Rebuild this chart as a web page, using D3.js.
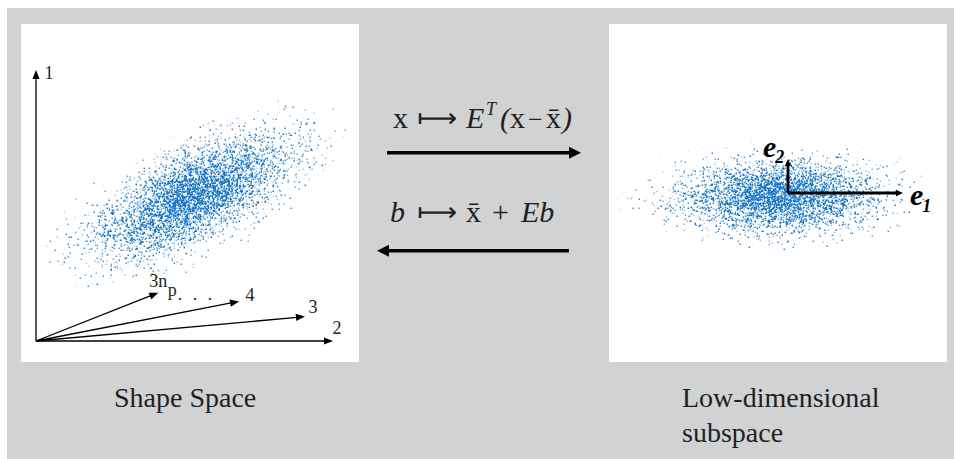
<!DOCTYPE html>
<html>
<head>
<meta charset="utf-8">
<script src="https://cdn.jsdelivr.net/npm/d3@7"></script>
<style>
  html, body { margin: 0; padding: 0; background: #fff; }
  svg { display: block; }
</style>
</head>
<body>
<svg id="fig" width="954" height="459"></svg>
<script>
// ---- Shape space: basis directions drawn from the origin (left panel units) ----
const axisNames = ["1", "2", "3", "4", "3n"];
const axisTipX  = [0, 1.1, 0.996, 0.752, 0.453];
const axisTipY  = [1.0, 0, 0.090, 0.146, 0.178];

// ---- Training shapes as a correlated Gaussian cloud (left panel units) ----
const shapeCentre = [0.58, 0.535];
const shapeSigma  = [0.205, 0.08];   // along / across the main direction
const shapeAngle  = [27];            // degrees, counter-clockwise

// ---- Same cloud in the eigenvector frame (right panel units, sigma of b) ----
const modeCentre = [-0.2, -0.06];
const modeSigma  = [1.02, 0.36];
const modeAngle  = [0];
const modeNames  = ["1", "2"];
const modeTipX   = [2.3, 0];
const modeTipY   = [0, 0.68];

// ---- Mapping arrows between the two spaces ----
const mapNames = ["project", "reconstruct"];
const mapFrom  = [0.049, 0.941];
const mapTo    = [1.0, 0.0];

const captions = [["Shape Space"], ["Low-dimensional", "subspace"]];

const ink = "#231f20";
const serif = "'Liberation Serif', 'Times New Roman', serif";
const svg = d3.select("#fig");
const defs = svg.append("defs");

// scales
const xL = d3.scaleLinear().domain([0, 1.1]).range([36, 333]);
const yL = d3.scaleLinear().domain([0, 1]).range([341, 70]);
const xR = d3.scaleLinear().domain([-3, 3]).range([638, 938]);
const yR = d3.scaleLinear().domain([-3, 3]).range([343, 43]);
const xM = d3.scaleLinear().domain([0, 1]).range([377, 581]);
const yM = d3.scalePoint().domain(mapNames).range([152.7, 250.7]);

// background and the two white panels
svg.append("rect").attr("x", 7).attr("y", 8).attr("width", 947).attr("height", 451).attr("fill", "#d1d2d4");
const panels = [{ x: 21, y: 24, w: 338, h: 338 }, { x: 609, y: 24, w: 338, h: 338 }];
svg.selectAll("rect.panel").data(panels).join("rect").attr("class", "panel")
  .attr("x", d => d.x).attr("y", d => d.y).attr("width", d => d.w).attr("height", d => d.h)
  .attr("fill", "#fff");

// arrow helper: shaft plus filled triangular head
function arrow(g, x1, y1, x2, y2, o) {
  const dx = x2 - x1, dy = y2 - y1, L = Math.hypot(dx, dy), ux = dx / L, uy = dy / L;
  const bx = x2 - ux * o.len, by = y2 - uy * o.len;
  g.append("line").attr("x1", x1).attr("y1", y1).attr("x2", bx + ux).attr("y2", by + uy)
    .attr("stroke", "#000").attr("stroke-width", o.w);
  g.append("path")
    .attr("d", `M${x2},${y2}L${bx - uy * o.half},${by + ux * o.half}L${bx + uy * o.half},${by - ux * o.half}Z`)
    .attr("fill", "#000");
}

// speckled point cloud: a Gaussian density thresholded against pixel noise
const hiBits = d3.range(256).map(i => (i % 16) / 16).join(" ");
const loBits = d3.range(256).map(i => (i % 16) / 256).join(" ");
const opBits = d3.range(256).map(i => (0.35 + 0.65 * (i % 16) / 15).toFixed(4)).join(" ");
const dotRGB = [0.11, 0.47, 0.77];

function cloud(id, centre, sigma, angle, coverage, seeds, panel, xs, ys) {
  const cx = xs(centre[0]), cy = ys(centre[1]);
  const sx = Math.abs(xs(sigma[0]) - xs(0)) * 4;
  const sy = Math.abs(ys(sigma[1]) - ys(0)) * 4;
  const grad = defs.append("radialGradient").attr("id", id + "-g")
    .attr("gradientUnits", "userSpaceOnUse").attr("cx", 0).attr("cy", 0).attr("r", 1)
    .attr("fx", 0).attr("fy", 0)
    .attr("gradientTransform", `translate(${cx},${cy}) rotate(${-angle}) scale(${sx},${sy})`);
  d3.range(0, 1.0001, 0.025).forEach(t => {
    grad.append("stop").attr("offset", t).attr("stop-color", "#fff")
      .attr("stop-opacity", Math.exp(-0.5 * (4 * t) * (4 * t)).toFixed(5));
  });
  const f = defs.append("filter").attr("id", id + "-f").attr("filterUnits", "userSpaceOnUse")
    .attr("x", panel.x).attr("y", panel.y).attr("width", panel.w).attr("height", panel.h)
    .attr("color-interpolation-filters", "sRGB");
  const alphaOnly = "0 0 0 0 0  0 0 0 0 0  0 0 0 0 0  0 0 0 1 0";
  const noise = (seed, res, table) => {
    f.append("feTurbulence").attr("type", "fractalNoise").attr("baseFrequency", 1.37)
      .attr("numOctaves", 1).attr("seed", seed).attr("result", res + "n");
    f.append("feComponentTransfer").attr("in", res + "n").attr("result", res + "t")
      .append("feFuncA").attr("type", "discrete").attr("tableValues", table);
    f.append("feColorMatrix").attr("in", res + "t").attr("type", "matrix")
      .attr("values", alphaOnly).attr("result", res);
  };
  noise(seeds[0], "hi", hiBits);
  noise(seeds[1], "lo", loBits);
  f.append("feComposite").attr("in", "hi").attr("in2", "lo").attr("operator", "arithmetic")
    .attr("k1", 0).attr("k2", 1).attr("k3", 1).attr("k4", 0).attr("result", "u");
  f.append("feColorMatrix").attr("in", "SourceGraphic").attr("type", "matrix")
    .attr("values", alphaOnly).attr("result", "dens");
  f.append("feComposite").attr("in", "dens").attr("in2", "u").attr("operator", "arithmetic")
    .attr("k1", 0).attr("k2", 255 * coverage).attr("k3", 255).attr("k4", -254).attr("result", "m");
  noise(seeds[2], "op", opBits);
  f.append("feComposite").attr("in", "m").attr("in2", "op").attr("operator", "arithmetic")
    .attr("k1", 1).attr("k2", 0).attr("k3", 0).attr("k4", 0).attr("result", "mv");
  // soften each dot over a 2x2 footprint, like an anti-aliased marker
  f.append("feConvolveMatrix").attr("in", "mv").attr("order", 2)
    .attr("kernelMatrix", "0.2 0.45 0.45 1").attr("divisor", 1).attr("edgeMode", "none")
    .attr("result", "soft");
  f.append("feColorMatrix").attr("in", "soft").attr("type", "matrix")
    .attr("values", `0 0 0 0 ${dotRGB[0]}  0 0 0 0 ${dotRGB[1]}  0 0 0 0 ${dotRGB[2]}  0 0 0 1 0`);
  svg.append("rect").attr("x", panel.x).attr("y", panel.y).attr("width", panel.w).attr("height", panel.h)
    .attr("fill", `url(#${id}-g)`).attr("filter", `url(#${id}-f)`);
}

cloud("shape", shapeCentre, shapeSigma, shapeAngle[0], 0.55, [3, 17, 29], panels[0], xL, yL);
cloud("mode", modeCentre, modeSigma, modeAngle[0], 0.6, [41, 53, 67], panels[1], xR, yR);

// ---- left panel: coordinate axes of shape space ----
const gL = svg.append("g");
const labelOffset = { "1": [13, 3], "2": [4, -13], "3": [8, -10], "4": [11, -7], "3n": [0, -12] };
axisNames.forEach((name, i) => {
  const tx = xL(axisTipX[i]), ty = yL(axisTipY[i]);
  arrow(gL, xL(0), yL(0), tx, ty, { w: 1.3, len: 9, half: 3.6 });
  gL.append("text").attr("x", tx + labelOffset[name][0]).attr("y", ty + labelOffset[name][1])
    .attr("dy", "0.35em").attr("text-anchor", "middle")
    .attr("font-family", serif).attr("font-size", 18).attr("fill", ink).text(name);
});
{
  const i = axisNames.indexOf("3n");
  const tx = xL(axisTipX[i]), ty = yL(axisTipY[i]);
  gL.append("text").attr("x", tx + 14).attr("y", ty + 3).attr("text-anchor", "middle")
    .attr("font-family", serif).attr("font-size", 18).attr("fill", ink).text("p");
  gL.append("text").attr("x", tx + 19.5).attr("y", ty + 7).attr("letter-spacing", 3)
    .attr("font-family", serif).attr("font-size", 18).attr("fill", ink).text(". . .");
}

// ---- right panel: eigenvector axes ----
const gR = svg.append("g");
modeNames.forEach((name, i) => {
  arrow(gR, xR(0), yR(0), xR(modeTipX[i]), yR(modeTipY[i]), { w: 2.8, len: 7, half: 3.2 });
});
const eLabel = (x, y, sub, dy) => {
  const t = gR.append("text").attr("x", x).attr("y", y).attr("font-family", serif)
    .attr("font-weight", "bold").attr("font-style", "italic").attr("font-size", 30).attr("fill", "#000");
  t.append("tspan").text("e");
  t.append("tspan").attr("font-size", 18).attr("dy", dy).attr("dx", -1).text(sub);
};
eLabel(xR(0) - 25, yR(modeTipY[1]) - 2, modeNames[1], 6);
eLabel(xR(modeTipX[0]) + 7, yR(0) + 12, modeNames[0], 7);

// ---- middle: the two mappings ----
const gM = svg.append("g");
mapNames.forEach((name, i) => {
  arrow(gM, xM(mapFrom[i]), yM(name), xM(mapTo[i]), yM(name), { w: 3.6, len: 12, half: 6 });
});
const piece = (x, y, s, o = {}) => gM.append("text").attr("x", x).attr("y", y)
  .attr("font-family", o.family || serif).attr("font-size", o.size || 30)
  .attr("font-style", o.italic ? "italic" : "normal").attr("fill", ink)
  .attr("textLength", o.len || null).attr("lengthAdjust", o.len ? "spacingAndGlyphs" : null)
  .text(s);
const mapsto = { family: "'DejaVu Sans', sans-serif", size: 26, len: 40 };
// x ↦ Eᵀ(x − x̄)
piece(393, 128, "x");
piece(417, 127, "\u27FC", mapsto);
piece(466, 128, "E", { italic: true });
piece(486, 115, "T", { italic: true, size: 18 });
piece(500, 128, "(", { italic: true });
piece(510, 128, "x");
piece(528, 128, "\u2212", { size: 26 });
piece(546, 128, "x\u0304");
piece(562, 128, ")", { italic: true });
// b ↦ x̄ + Eb
piece(390, 222, "b", { italic: true });
piece(417, 221, "\u27FC", mapsto);
piece(466, 222, "x\u0304");
piece(492, 222, "+");
piece(521, 222, "Eb", { italic: true });

// ---- captions ----
const capX = [114, 682];
captions.forEach((lines, i) => {
  lines.forEach((line, j) => {
    svg.append("text").attr("x", capX[i]).attr("y", 407 + j * 35)
      .attr("font-family", serif).attr("font-size", 28).attr("fill", ink).text(line);
  });
});
</script>
</body>
</html>
